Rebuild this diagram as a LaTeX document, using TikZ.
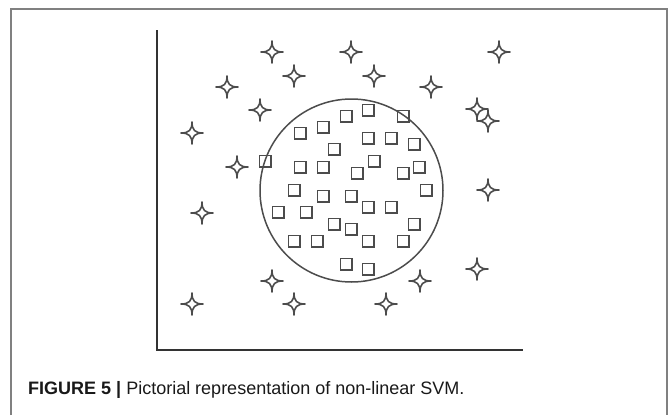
\documentclass[tikz,border=0pt]{standalone}
\usepackage{fontspec}
\setmainfont{Liberation Sans}
\usepackage{tikz}
\usetikzlibrary{positioning}
\newcommand{\cell}[3][]{
	\node [sq] (#1) at (#2, #3) {};
}
\newcommand{\twinkle}[3][]{
	% four pointed star, drawn round its centre
	\coordinate (#1) at (#2, #3);
	\draw [star, shift={(#2,#3)}] (0,-11) .. controls (0,-3) and (3,0) .. (11,0)
		.. controls (3,0) and (0,3) .. (0,11) .. controls (0,3) and (-3,0) .. (-11,0)
		.. controls (-3,0) and (0,-3) .. cycle;
}

\begin{document}
\begin{tikzpicture}[x=1pt, y=-1pt,
	sq/.style={draw=black!70, line width=1.5pt, rectangle, minimum size=11.5pt, inner sep=0pt},
	star/.style={draw=black!70, line width=1.6pt, line join=round},
	axis/.style={draw=black!80, line width=2.6pt},
	frame/.style={draw=black!50, line width=1.4pt}]
		\useasboundingbox (0,0) rectangle (672,415);
		\draw [frame] (11,415) -- (11,9) -- (667,9) -- (667,415);
		% axes
		\coordinate (top) at (157,30);
		\coordinate (origin) at (157,350);
		\coordinate (right) at (523,350);
		\draw [axis] (top) -- (origin) -- (right);
		% separating circle
		\node [draw=black!70, line width=1.5pt, circle, minimum size=183pt, inner sep=0pt] (ring) at (351.5,190.5) {};
		\cell[s1]{346}{116}
		\cell[s2]{368}{110}
		\cell[s3]{403}{116}
		\cell[s4]{300}{133}
		\cell[s5]{323}{127}
		\cell[s6]{334}{149}
		\cell[s7]{368}{138}
		\cell[s8]{391}{138}
		\cell[s9]{414}{144}
		\cell[s10]{265}{161}
		\cell[s11]{300}{167}
		\cell[s12]{323}{167}
		\cell[s13]{357}{173}
		\cell[s14]{374}{161}
		\cell[s15]{403}{173}
		\cell[s16]{419}{167}
		\cell[s17]{294}{190}
		\cell[s18]{323}{196}
		\cell[s19]{351}{196}
		\cell[s20]{426}{190}
		\cell[s21]{368}{207}
		\cell[s22]{391}{207}
		\cell[s23]{278}{212}
		\cell[s24]{306}{212}
		\cell[s25]{334}{224}
		\cell[s26]{351}{229}
		\cell[s27]{414}{224}
		\cell[s28]{294}{241}
		\cell[s29]{317}{241}
		\cell[s30]{368}{241}
		\cell[s31]{403}{241}
		\cell[s32]{346}{264}
		\cell[s33]{368}{269}
		\twinkle[p1]{272}{52}
		\twinkle[p2]{351}{52}
		\twinkle[p3]{499}{52}
		\twinkle[p4]{294}{76}
		\twinkle[p5]{374}{76}
		\twinkle[p6]{227}{87}
		\twinkle[p7]{431}{87}
		\twinkle[p8]{260}{110}
		\twinkle[p9]{477}{109}
		\twinkle[p10]{488}{121}
		\twinkle[p11]{192}{133}
		\twinkle[p12]{237}{167}
		\twinkle[p13]{488}{190}
		\twinkle[p14]{202}{213}
		\twinkle[p15]{477}{269}
		\twinkle[p16]{272}{281}
		\twinkle[p17]{420}{281}
		\twinkle[p18]{192}{304}
		\twinkle[p19]{294}{304}
		\twinkle[p20]{386}{304}
		% caption
		\node [anchor=base west, inner sep=0pt, font=\fontsize{18}{20}\selectfont, text=black!90] (caption) at (28,394)
			{\textbf{FIGURE 5 |} Pictorial representation of non-linear SVM.};
\end{tikzpicture}
\end{document}
